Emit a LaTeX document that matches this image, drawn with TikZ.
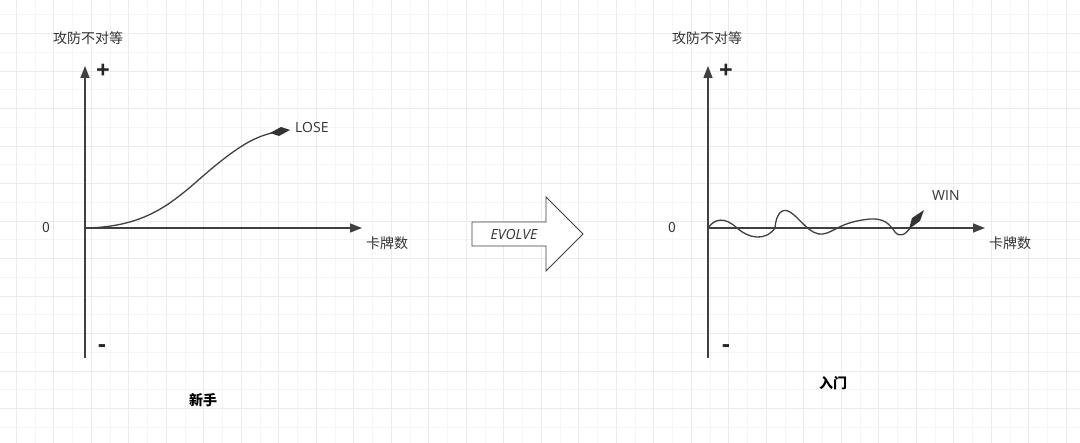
\documentclass[tikz,border=0pt]{standalone}
\usepackage{fontspec}
\setmainfont{Open Sans}
\newfontfamily\cjk{Noto Sans CJK SC}
\usetikzlibrary{arrows.meta}
\begin{document}
\begin{tikzpicture}[x=1pt,y=-1pt,
  axis/.style={line width=1.4pt,draw=black!75,-{Triangle[length=12pt,width=9pt]}},
  curve/.style={line width=1.3pt,draw=black!75},
  lbl/.style={font=\fontsize{14}{16}\selectfont\cjk,text=black!80,inner sep=0pt},
  sign/.style={font=\fontsize{24}{26}\selectfont\bfseries,text=black!85,inner sep=0pt},
  title/.style={font=\fontsize{14}{16}\selectfont\cjk\bfseries,inner sep=0pt},
  blockarrow/.style={draw=black!75,line width=0.9pt,fill=white,line join=miter}]
\fill[white] (0,0) rectangle (1080,443);
\useasboundingbox (0,0) rectangle (1080,443);
\foreach \i in {0,...,58}{\draw[black!4,line width=0.5pt] (16+\i*18.75,0)--(16+\i*18.75,443);}
\foreach \i in {0,...,24}{\draw[black!4,line width=0.5pt] (0,-4+\i*18.75)--(1080,-4+\i*18.75);}
\foreach \i in {0,...,29}{\draw[black!8,line width=0.6pt] (16+\i*37.5,0)--(16+\i*37.5,443);}
\foreach \i in {0,...,12}{\draw[black!8,line width=0.6pt] (0,-4+\i*37.5)--(1080,-4+\i*37.5);}
% left
\coordinate (lo) at (85,228);
\coordinate (ly) at (85,66);
\coordinate (lx) at (362,228);
\coordinate (lb) at (85,358);
\draw[axis] (lb)--(ly);
\draw[axis] (lo)--(lx);
\node[lbl] (lt) at (88,38) {攻防不对等};
\node[sign] (lp) at (103,71) {+};
\node[sign] (lm) at (102,349) {-};
\node[lbl] (l0) at (46,228) {0};
\node[lbl] (lxl) at (387,243) {卡牌数};
\node[title] (ln) at (203,400) {新手};
\draw[curve] (lo) .. controls (150,227) and (175,200) .. (210,170) .. controls (240,145) and (255,137) .. (272,133);
\fill[black!80] (270,133)--(281,127)--(290,130)--(279,136)--cycle;
\node[lbl,anchor=west,font=\fontsize{14}{16}\selectfont] (lose) at (295,127) {LOSE};
% arrow
\draw[blockarrow] (472,222)--(546,222)--(546,197)--(583,234)--(546,271)--(546,246)--(472,246)--cycle;
\node[font=\fontsize{14}{16}\selectfont\itshape,text=black!80,inner sep=0pt] (evt) at (514,234) {EVOLVE};
% right
\coordinate (ro) at (708,228);
\coordinate (ry) at (708,66);
\coordinate (rx) at (985,228);
\coordinate (rb) at (708,358);
\draw[axis] (rb)--(ry);
\draw[axis] (ro)--(rx);
\node[lbl] (rt) at (707,38) {攻防不对等};
\node[sign] (rp) at (726,71) {+};
\node[sign] (rm) at (726,349) {-};
\node[lbl] (r0) at (672,228) {0};
\node[lbl] (rxl) at (1010,243) {卡牌数};
\node[title] (rn) at (833,383) {入门};
\draw[curve] (ro) .. controls (715,218) and (725,217) .. (737,228)
  .. controls (748,238) and (765,242) .. (775,228)
  .. controls (776,214) and (782,207) .. (790,212)
  .. controls (800,218) and (810,236) .. (823,234)
  .. controls (835,232) and (840,222) .. (870,219)
  .. controls (885,218) and (890,225) .. (895,232)
  .. controls (900,238) and (906,235) .. (912,225);
\fill[black!80] (909,229)--(912,218)--(924,210)--(920,221)--cycle;
\node[lbl,anchor=west,font=\fontsize{14}{16}\selectfont] (win) at (932,196) {WIN};
\end{tikzpicture}
\end{document}
